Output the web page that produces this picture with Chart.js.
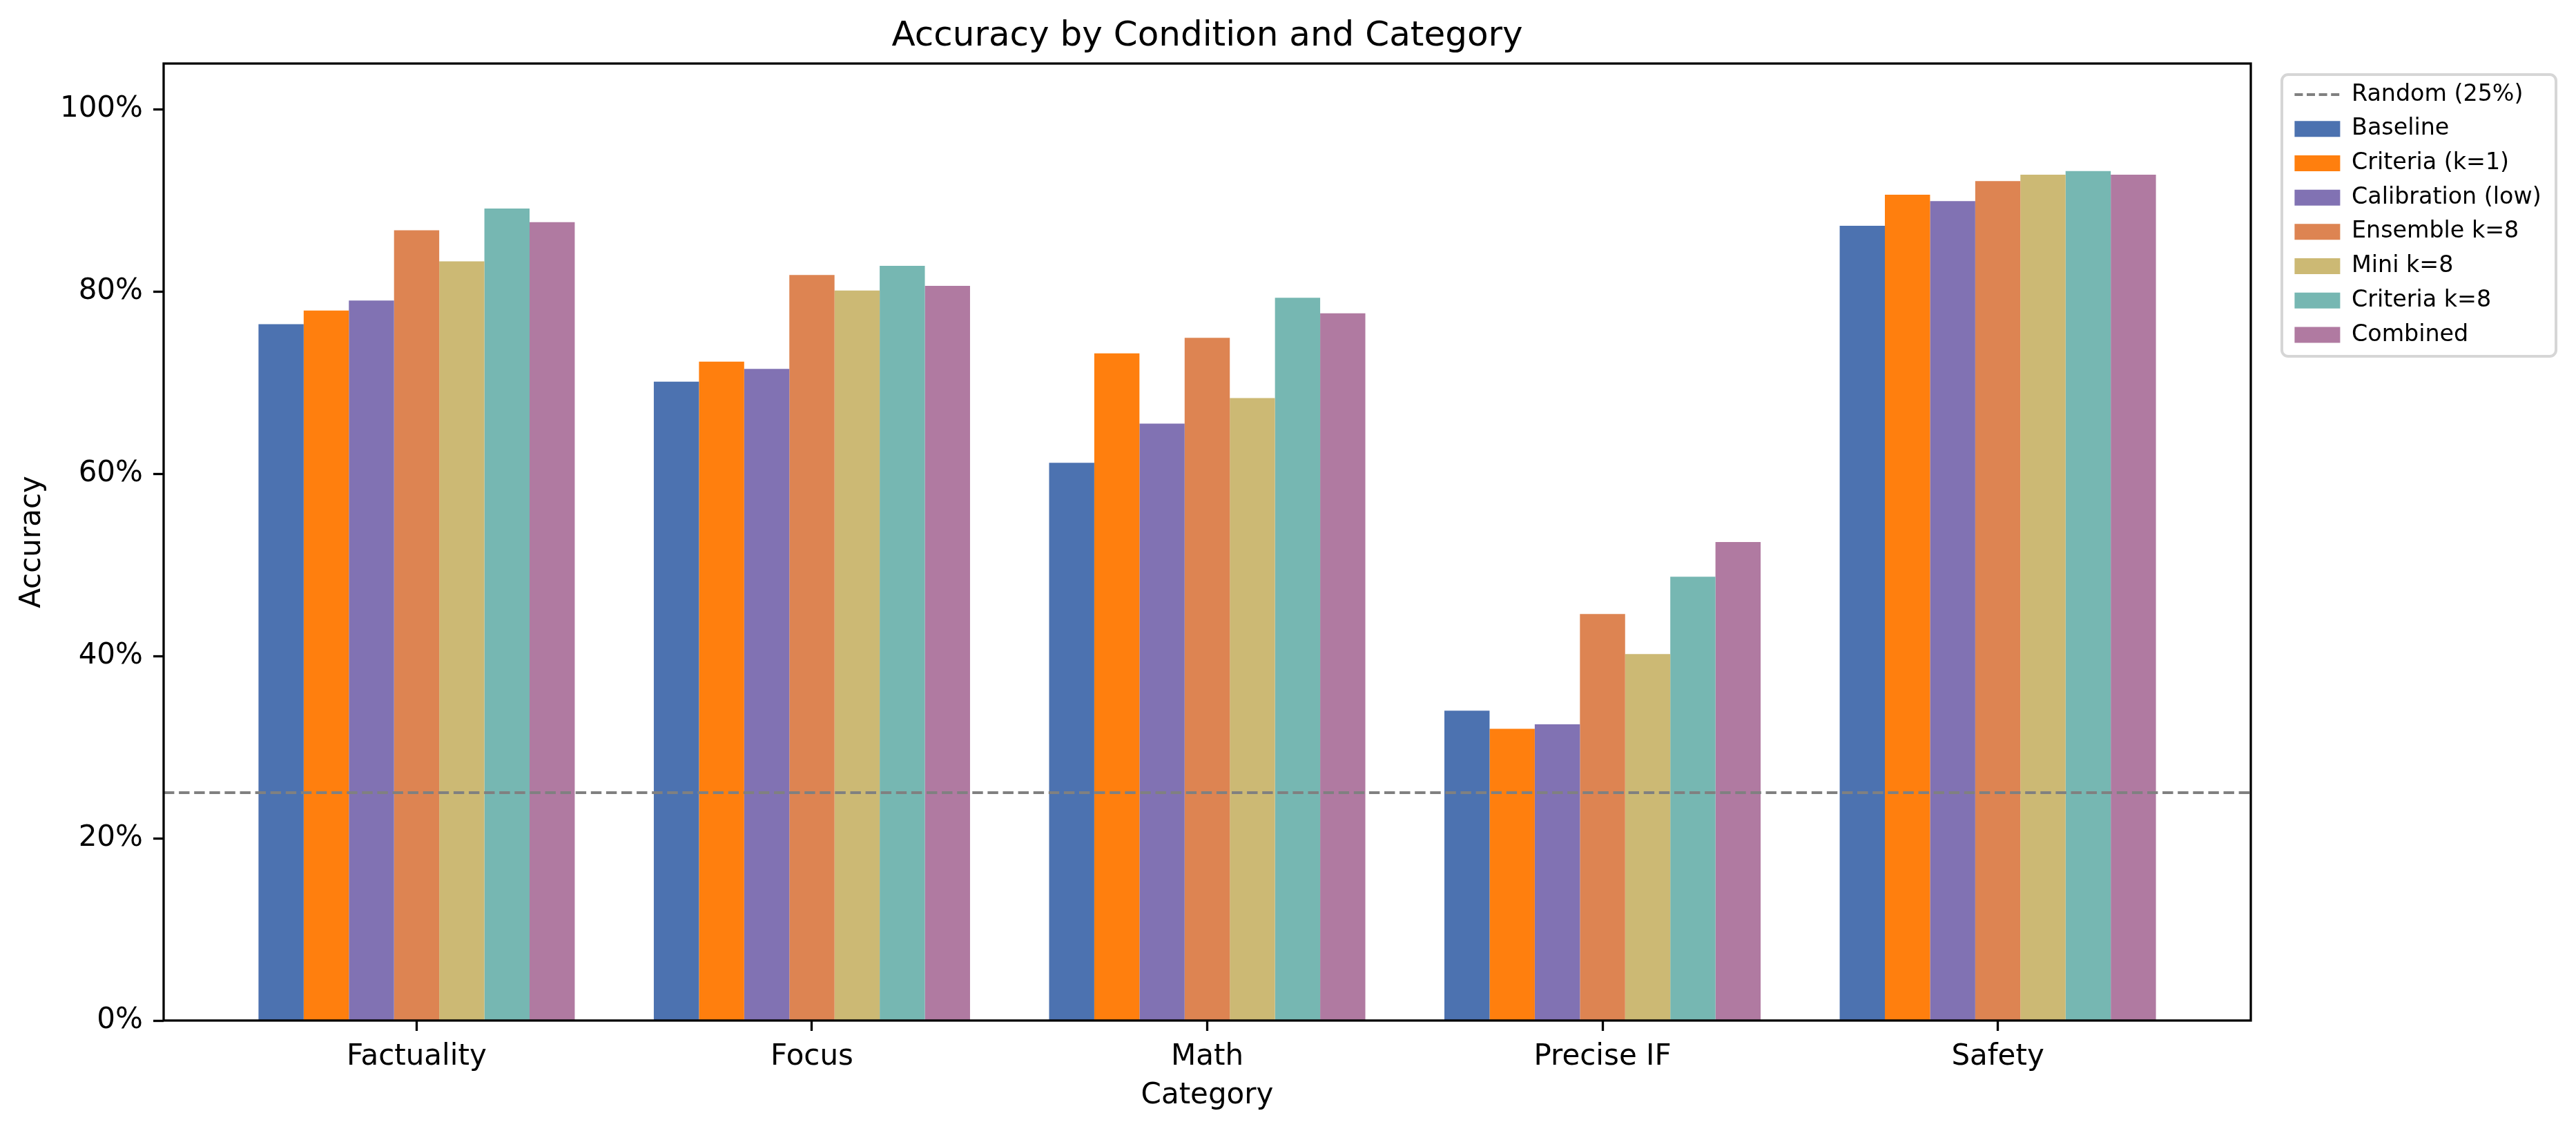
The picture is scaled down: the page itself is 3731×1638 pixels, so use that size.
<!DOCTYPE html>
<html>
<head>
<meta charset="utf-8">
<title>Accuracy by Condition and Category</title>
<script src="https://cdn.jsdelivr.net/npm/chart.js@4/dist/chart.umd.min.js"></script>
<style>
  html, body { margin: 0; padding: 0; background: #fff; }
  canvas { display: block; }
</style>
</head>
<body>
<canvas id="accChart" width="3731" height="1638"></canvas>
<script>
// categories on the x axis
const categories = ['Factuality', 'Focus', 'Math', 'Precise IF', 'Safety'];

// accuracy (%) per condition
const baseline       = [76.4, 70.1, 61.2, 34.0, 87.2];
const criteriaK1     = [77.9, 72.3, 73.2, 32.0, 90.6];
const calibrationLow = [79.0, 71.5, 65.5, 32.5, 89.9];
const ensembleK8     = [86.7, 81.8, 74.9, 44.6, 92.1];
const miniK8         = [83.3, 80.1, 68.3, 40.2, 92.8];
const criteriaK8     = [89.1, 82.8, 79.3, 48.7, 93.2];
const combined       = [87.6, 80.6, 77.6, 52.5, 92.8];

const randomChance = 25;
const yTicks = [0, 20, 40, 60, 80, 100];

// axis limits (matplotlib style 5% margin around the bar groups)
const X_MIN = -0.64, X_MAX = 4.64;
const Y_MIN = 0, Y_MAX = 105;

const FONT = 'DejaVu Sans';
Chart.defaults.font.family = FONT;
Chart.defaults.color = '#000';

function toPoints(values) {
    return values.map((v, i) => ({ x: i, y: v }));
}

function barSet(label, values, color) {
    return {
        type: 'bar',
        label: label,
        data: toPoints(values),
        backgroundColor: color,
        borderWidth: 0,
        barPercentage: 1.0,
        categoryPercentage: 0.8
    };
}

const datasets = [
    {
        type: 'line',
        label: 'Random (25%)',
        data: [{ x: X_MIN, y: randomChance }, { x: X_MAX, y: randomChance }],
        borderColor: '#808080',
        borderWidth: 4,
        borderDash: [15.4, 6.7],
        pointRadius: 0,
        fill: false
    },
    barSet('Baseline', baseline, '#4c72b0'),
    barSet('Criteria (k=1)', criteriaK1, '#ff7f0e'),
    barSet('Calibration (low)', calibrationLow, '#8172b3'),
    barSet('Ensemble k=8', ensembleK8, '#dd8452'),
    barSet('Mini k=8', miniK8, '#ccb974'),
    barSet('Criteria k=8', criteriaK8, '#76b7b2'),
    barSet('Combined', combined, '#b07aa1')
];

// frame around the plot + legend frame, drawn over the bars like matplotlib spines
const framePlugin = {
    id: 'frames',
    afterInit(chart) {
        // fixed legend width so the plot area ends where the reference does
        const lg = chart.legend;
        const fit = lg.fit;
        lg.fit = function () { fit.call(this); this.width = 424; };
    },
    afterDatasetsDraw(chart) {
        const a = chart.chartArea;
        const ctx = chart.ctx;
        ctx.save();
        ctx.strokeStyle = '#000';
        ctx.lineWidth = 3.3;
        ctx.strokeRect(a.left, a.top, a.right - a.left, a.bottom - a.top);
        ctx.restore();
    },
    afterDraw(chart) {
        const lg = chart.legend;
        const ctx = chart.ctx;
        const x = lg.left - 2, y = lg.top + 16, w = 397, h = 408, r = 9;
        ctx.save();
        ctx.strokeStyle = '#d6d6d6';
        ctx.lineWidth = 4;
        ctx.beginPath();
        ctx.roundRect(x, y, w, h, r);
        ctx.stroke();
        ctx.restore();
    }
};

new Chart(document.getElementById('accChart').getContext('2d'), {
    type: 'bar',
    data: { datasets: datasets },
    options: {
        responsive: false,
        animation: false,
        devicePixelRatio: 1,
        layout: { padding: 0 },
        plugins: {
            title: {
                display: true,
                text: 'Accuracy by Condition and Category',
                fullSize: false,
                font: { size: 50, weight: 'normal', lineHeight: 1 },
                color: '#000',
                padding: { top: 28, bottom: 14 }
            },
            legend: {
                display: true,
                position: 'right',
                align: 'start',
                fullSize: false,
                title: { display: true, text: ' ', padding: 0, font: { size: 12, lineHeight: 1 } },
                labels: {
                    font: { size: 33.3 },
                    color: '#000',
                    usePointStyle: true,
                    pointStyleWidth: 66,
                    boxHeight: 23,
                    padding: 16.4,
                    generateLabels(chart) {
                        return chart.data.datasets.map((ds, i) => {
                            const isLine = ds.type === 'line';
                            return {
                                text: ds.label,
                                fillStyle: isLine ? 'rgba(0,0,0,0)' : ds.backgroundColor,
                                strokeStyle: isLine ? ds.borderColor : ds.backgroundColor,
                                lineWidth: isLine ? 4 : 0,
                                lineDash: isLine ? [12, 5.6] : [],
                                pointStyle: isLine ? 'line' : 'rect',
                                fontColor: '#000',
                                hidden: false,
                                datasetIndex: i
                            };
                        });
                    }
                }
            },
            tooltip: { enabled: false }
        },
        scales: {
            x: {
                type: 'linear',
                min: X_MIN,
                max: X_MAX,
                offset: false,
                afterBuildTicks(scale) {
                    scale.ticks = categories.map((c, i) => ({ value: i }));
                },
                afterFit(scale) { scale.height = 160; },
                ticks: {
                    autoSkip: false,
                    maxRotation: 0,
                    padding: 13,
                    font: { size: 42 },
                    color: '#000',
                    callback: (v) => categories[v]
                },
                grid: {
                    display: true,
                    offset: false,
                    drawOnChartArea: false,
                    drawTicks: true,
                    tickLength: 15,
                    tickWidth: 3.3,
                    tickColor: '#000'
                },
                border: { display: false },
                title: {
                    display: true,
                    text: 'Category',
                    font: { size: 42, lineHeight: 1 },
                    color: '#000',
                    padding: { top: 0, bottom: 29.5 }
                }
            },
            y: {
                type: 'linear',
                min: Y_MIN,
                max: Y_MAX,
                afterBuildTicks(scale) {
                    scale.ticks = yTicks.map(v => ({ value: v }));
                },
                afterFit(scale) { scale.width = 237; },
                ticks: {
                    padding: 15,
                    font: { size: 42 },
                    color: '#000',
                    callback: (v) => v + '%'
                },
                grid: {
                    display: true,
                    drawOnChartArea: false,
                    drawTicks: true,
                    tickLength: 15,
                    tickWidth: 3.3,
                    tickColor: '#000'
                },
                border: { display: false },
                title: {
                    display: true,
                    text: 'Accuracy',
                    font: { size: 42, lineHeight: 1 },
                    color: '#000',
                    padding: { top: 26, bottom: 0 }
                }
            },
            // empty spacer between the plot and the legend
            gap: {
                type: 'linear',
                position: 'right',
                display: true,
                afterFit(scale) { scale.width = 47; },
                ticks: { display: false },
                grid: { display: false, drawTicks: false },
                border: { display: false },
                title: { display: false }
            }
        }
    },
    plugins: [framePlugin]
});
</script>
</body>
</html>
